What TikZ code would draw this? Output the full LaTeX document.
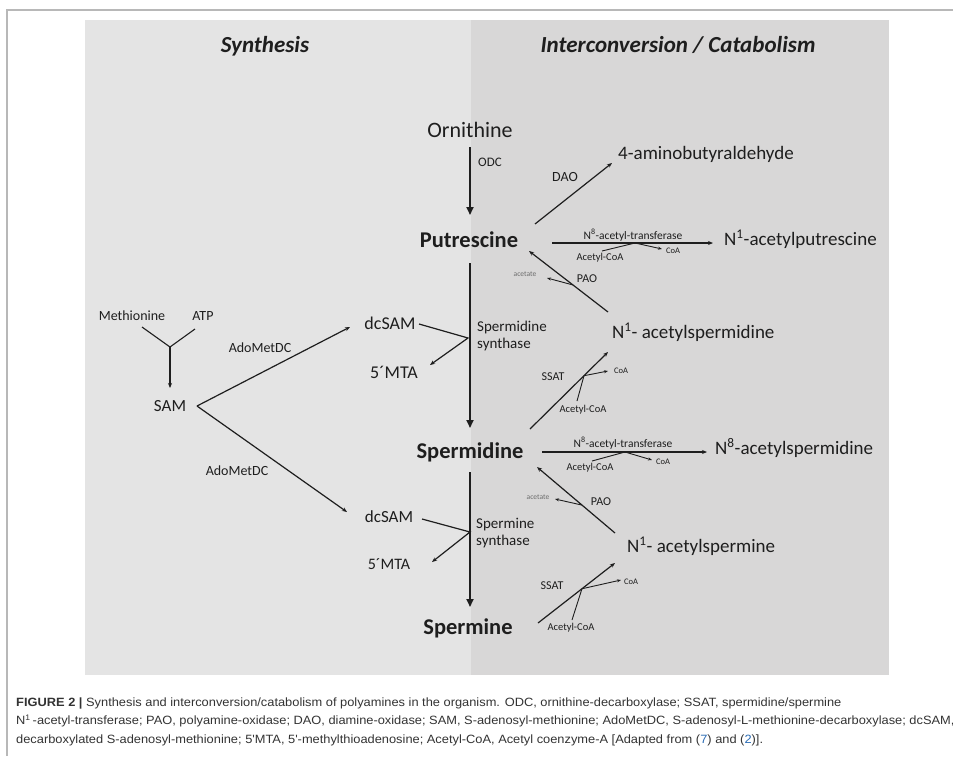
\documentclass[tikz,border=0pt]{standalone}
\usepackage{fontspec}
\setmainfont{Carlito}
\newfontfamily\capfont[FakeStretch=1.07]{Liberation Sans}
\usetikzlibrary{arrows.meta,calc}
\definecolor{panelL}{HTML}{E4E4E4}
\definecolor{panelR}{HTML}{D8D7D7}
\definecolor{frameC}{HTML}{B8B8B8}
\definecolor{ink}{HTML}{1E1E1E}
\definecolor{capC}{HTML}{333333}
\definecolor{linkC}{HTML}{2B6CB5}
\newcommand\myfs[1]{\fontsize{#1}{#1}\selectfont}
\tikzset{
  txt/.style={inner sep=0pt, text=ink, anchor=base},
  txtw/.style={inner sep=0pt, text=ink, anchor=base west},
  bigb/.style={txt, font=\myfs{22.5}\bfseries},
  prod/.style={txtw, font=\myfs{19}},
  enz/.style={txt, font=\myfs{14}},
  small/.style={txt, font=\myfs{10.5}},
  tiny/.style={txt, font=\myfs{8.5}},
  hdr/.style={txt, font=\myfs{23}\bfseries\itshape},
  mainarr/.style={draw=ink, line width=1.9pt, -{Triangle[length=8pt,width=7pt]}},
  arr/.style={draw=ink, line width=1.2pt, -{Stealth[length=5pt,width=4pt]}},
  side/.style={draw=ink, line width=0.9pt},
  sidearr/.style={side, -{Stealth[length=4pt,width=3pt]}},
  captxt/.style={inner sep=0pt, anchor=base west, text=capC, font=\capfont\myfs{12}},
}
\begin{document}
\begin{tikzpicture}[x=1pt,y=-1pt]
\useasboundingbox (0,0) rectangle (953,756);
% frame and panels
\fill[white] (0,0) rectangle (953,756);
\draw[frameC, line width=1.6pt] (7,756) -- (7,10) -- (953,10);
\fill[panelL] (85,20) rectangle (471,675);
\fill[panelR] (471,20) rectangle (889,675);
% headers
\node[hdr] (hsyn) at (265,52) {Synthesis};
\node[hdr] (hint) at (678,52) {Interconversion / Catabolism};
% main polyamines
\node[txt, font=\myfs{22}] (orn) at (470,137) {Ornithine};
\node[bigb] (put) at (469,247) {Putrescine};
\node[bigb] (spd) at (470,458) {Spermidine};
\node[bigb] (spm) at (468,634) {Spermine};
% products
\node[prod] (amb) at (618,159) {4-aminobutyraldehyde};
\node[prod] (acput) at (724,245) {N\textsuperscript{1}-acetylputrescine};
\node[prod] (acspd) at (612,338) {N\textsuperscript{1}- acetylspermidine};
\node[prod] (n8spd) at (715,454) {N\textsuperscript{8}-acetylspermidine};
\node[prod] (acspm) at (627,552) {N\textsuperscript{1}- acetylspermine};
% synthesis side
\node[enz] (met) at (132,320) {Methionine};
\node[enz] (atp) at (203,320) {ATP};
\node[txt, font=\myfs{17}] (sam) at (170,411) {SAM};
\node[txt, font=\myfs{18}] (dcsamA) at (390,329) {dcSAM};
\node[txt, font=\myfs{18}] (mtaA) at (394,378) {5´MTA};
\node[txt, font=\myfs{17}] (dcsamB) at (389,522) {dcSAM};
\node[txt, font=\myfs{16}] (mtaB) at (389,569) {5´MTA};
\node[enz] (adoA) at (260,352) {AdoMetDC};
\node[enz] (adoB) at (237,475) {AdoMetDC};
% enzyme labels
\node[txt, font=\myfs{13}] (odc) at (490,166) {ODC};
\node[enz] (dao) at (565,181) {DAO};
\node[inner sep=0pt, anchor=west, text=ink, font=\myfs{15}, align=left] (spdsyn) at (477,336) {Spermidine\\[2pt]synthase};
\node[inner sep=0pt, anchor=west, text=ink, font=\myfs{15}, align=left] (spmsyn) at (476,533) {Spermine\\[2pt]synthase};
\node[txt, font=\myfs{11.5}] (natA) at (633,239) {N\textsuperscript{8}-acetyl-transferase};
\node[small] (acoaA) at (600,260.5) {Acetyl-CoA};
\node[tiny] (coaA) at (673,253) {CoA};
\node[txt, font=\myfs{12}] (paoA) at (587,282) {PAO};
\node[txt, font=\myfs{7.5}, text=ink!65] (acetA) at (525,276.5) {acetate};
\node[txt, font=\myfs{12}] (ssatA) at (553,380) {SSAT};
\node[tiny] (coaB) at (621,373) {CoA};
\node[small] (acoaB) at (583,412.5) {Acetyl-CoA};
\node[txt, font=\myfs{11.5}] (natB) at (623,447) {N\textsuperscript{8}-acetyl-transferase};
\node[small] (acoaC) at (590,470.5) {Acetyl-CoA};
\node[tiny] (coaC) at (663,464) {CoA};
\node[txt, font=\myfs{7.5}, text=ink!65] (acetB) at (538,499.5) {acetate};
\node[txt, font=\myfs{12}] (paoB) at (601,505) {PAO};
\node[txt, font=\myfs{12}] (ssatB) at (552,589) {SSAT};
\node[tiny] (coaD) at (631,584) {CoA};
\node[small] (acoaD) at (571,630.5) {Acetyl-CoA};
% coordinates for connector ends
\coordinate (odc1) at (470,147); \coordinate (odc2) at (470,215);
\coordinate (sd1) at (470,263); \coordinate (sd2) at (470,428);
\coordinate (sm1) at (470,472); \coordinate (sm2) at (470,607);
\coordinate (ym) at (142,327); \coordinate (ya) at (195,329); \coordinate (yj) at (170,347); \coordinate (ys) at (170,388);
\coordinate (samR) at (197,406); \coordinate (dA) at (350,327); \coordinate (dB) at (347,512);
\coordinate (dcA1) at (419,324); \coordinate (jA) at (468,338); \coordinate (mA) at (430,365);
\coordinate (dcB1) at (422,519); \coordinate (jB) at (470,532); \coordinate (mB) at (432,562);
\coordinate (dao1) at (535,224); \coordinate (dao2) at (612,163);
\coordinate (natA1) at (552,243); \coordinate (natA2) at (713,243);
\coordinate (sA1) at (602,251); \coordinate (sAj) at (635,243); \coordinate (sA2) at (662,249);
\coordinate (paoA1) at (608,312); \coordinate (paoA2) at (529,251);
\coordinate (paoAj) at ($(paoA1)!0.443!(paoA2)$); \coordinate (acA) at (547,278);
\coordinate (ssA1) at (530,429); \coordinate (ssA2) at (608,352);
\coordinate (ssAj) at ($(ssA1)!0.692!(ssA2)$); \coordinate (coaBe) at (608,371); \coordinate (acoaBe) at (577,401);
\coordinate (natB1) at (542,452); \coordinate (natB2) at (707,452);
\coordinate (sC1) at (592,461); \coordinate (sCj) at (625,452); \coordinate (sC2) at (652,460);
\coordinate (paoB1) at (615,533); \coordinate (paoB2) at (537,467);
\coordinate (paoBj) at ($(paoB1)!0.423!(paoB2)$); \coordinate (acB) at (555,499);
\coordinate (ssB1) at (538,623); \coordinate (ssB2) at (615,563);
\coordinate (ssBj) at ($(ssB1)!0.571!(ssB2)$); \coordinate (coaDe) at (621,580); \coordinate (acoaDe) at (572,620);
% main vertical arrows
\draw[mainarr] (odc1) -- (odc2);
\draw[mainarr] (sd1) -- (sd2);
\draw[mainarr] (sm1) -- (sm2);
% synthesis
\draw[side, line width=1.1pt] (ym) -- (yj) -- (ya);
\draw[arr, line width=1.1pt] (yj) -- (ys);
\draw[arr] (samR) -- (dA);
\draw[arr] (samR) -- (dB);
\draw[arr] (dcA1) -- (jA) -- (mA);
\draw[arr] (dcB1) -- (jB) -- (mB);
% catabolism
\draw[arr] (dao1) -- (dao2);
\draw[arr] (natA1) -- (natA2);
\draw[sidearr] (sA1) -- (sAj) -- (sA2);
\draw[arr] (paoA1) -- (paoA2);
\draw[sidearr] (paoAj) -- (acA);
\draw[arr] (ssA1) -- (ssA2);
\draw[sidearr] (acoaBe) -- (ssAj) -- (coaBe);
\draw[arr] (natB1) -- (natB2);
\draw[sidearr] (sC1) -- (sCj) -- (sC2);
\draw[arr] (paoB1) -- (paoB2);
\draw[sidearr] (paoBj) -- (acB);
\draw[arr] (ssB1) -- (ssB2);
\draw[sidearr] (acoaDe) -- (ssBj) -- (coaDe);
% caption
\node[captxt] (cap1) at (16,706) {\textbf{FIGURE 2 |} Synthesis and interconversion/catabolism of polyamines in the organism. ODC, ornithine-decarboxylase; SSAT, spermidine/spermine};
\node[captxt] (cap2) at (16,724.5) {N\textsuperscript{1}\,-acetyl-transferase; PAO, polyamine-oxidase; DAO, diamine-oxidase; SAM, S-adenosyl-methionine; AdoMetDC, S-adenosyl-L-methionine-decarboxylase; dcSAM,};
\node[captxt] (cap3) at (16,743) {decarboxylated S-adenosyl-methionine; 5'MTA, 5'-methylthioadenosine; Acetyl-CoA, Acetyl coenzyme-A [Adapted from ({\color{linkC}7}) and ({\color{linkC}2})].};
\end{tikzpicture}
\end{document}
